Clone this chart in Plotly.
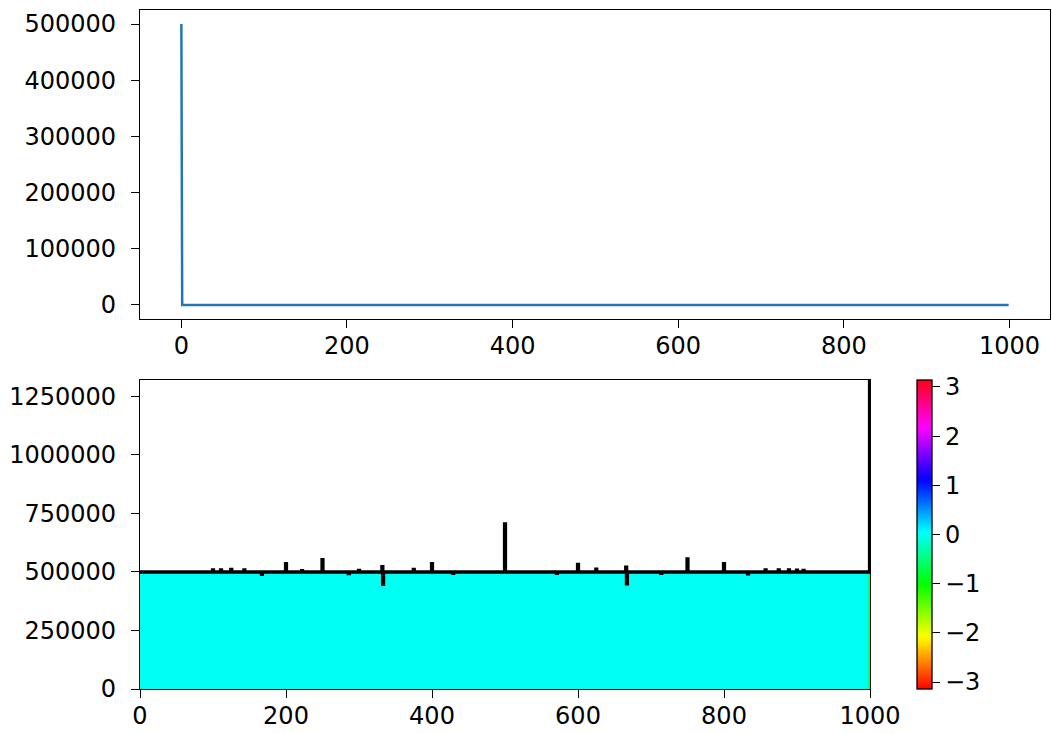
import plotly.graph_objects as go
import numpy as np

# ---- top panel: time-domain signal ----
sig_x = list(range(1000))
sig_peak_x = [0]
sig_peak_v = [500000]

# ---- bottom panel: spectrum magnitude / phase ----
freq_x = list(range(1001))
mag_base = 500000
spike_x = [100, 111, 125, 143, 167, 200, 222, 250, 286, 300, 332, 333, 375, 400, 429,
           500, 571, 600, 625, 666, 667, 714, 750, 800, 833, 857, 875, 889, 900, 909, 1000]
spike_v = [508000, 508000, 510000, 508000, 490000, 535000, 505000, 552000, 493000, 506000,
           522000, 448000, 510000, 535000, 494000, 705000, 494000, 532000, 512000, 520000,
           450000, 494000, 555000, 535000, 492000, 508000, 508000, 508000, 507000, 506000, 1320000]
phase_x = [997, 998, 999, 1000]
phase_v = [-0.15, -0.3, -0.45, -0.6]

top_y = [0.0] * len(sig_x)
for x, v in zip(sig_peak_x, sig_peak_v):
    top_y[x] = v

mag = [mag_base] * len(freq_x)
for x, v in zip(spike_x, spike_v):
    mag[x] = v
phase = [0.0] * len(freq_x)
for x, v in zip(phase_x, phase_v):
    phase[x] = v

# matplotlib 'hsv' colormap
hsv = [
    [0.0, "rgb(255,0,0)"],
    [0.158730, "rgb(255,239,0)"],
    [0.174603, "rgb(247,255,0)"],
    [0.333333, "rgb(8,255,0)"],
    [0.349206, "rgb(0,255,16)"],
    [0.507937, "rgb(0,255,255)"],
    [0.666667, "rgb(0,16,255)"],
    [0.682540, "rgb(8,0,255)"],
    [0.841270, "rgb(247,0,255)"],
    [0.857143, "rgb(255,0,239)"],
    [1.0, "rgb(255,0,24)"],
]

FONT = dict(family="DejaVu Sans", size=24, color="black")
W, H = 1052, 733

fig = go.Figure()
fig.add_trace(go.Scatter(x=sig_x, y=top_y, mode="lines",
                         line=dict(color="#1f77b4", width=2.5),
                         xaxis="x", yaxis="y", hoverinfo="skip"))
fig.add_trace(go.Bar(x=freq_x, y=mag, width=1,
                     marker=dict(color=phase, colorscale=hsv, cmin=-np.pi, cmax=np.pi,
                                 line=dict(width=0), showscale=True,
                                 colorbar=dict(x=917 / W, xanchor="left", xpad=0, ypad=0,
                                               y=1 - 689 / H, yanchor="bottom",
                                               len=(689 - 380) / H, lenmode="fraction",
                                               thickness=15, thicknessmode="pixels",
                                               outlinewidth=1.3, outlinecolor="black",
                                               tickvals=[-3, -2, -1, 0, 1, 2, 3],
                                               tickprefix="\u2009",
                                               ticks="outside", ticklen=8, tickwidth=1.3,
                                               tickcolor="black", tickfont=FONT)),
                     xaxis="x2", yaxis="y2", hoverinfo="skip"))
fig.add_trace(go.Scatter(x=freq_x, y=mag, mode="lines",
                         line=dict(color="black", width=3.5, shape="hvh"),
                         xaxis="x2", yaxis="y2", hoverinfo="skip"))

axis_common = dict(showline=True, mirror=True, linecolor="black", linewidth=1.3,
                   ticks="outside", ticklen=8, tickwidth=1.3, tickcolor="black",
                   showgrid=False, zeroline=False, tickfont=FONT, automargin=False)

fig.update_layout(
    width=W, height=H, margin=dict(l=0, r=0, t=0, b=0, autoexpand=False),
    plot_bgcolor="white", paper_bgcolor="white", showlegend=False, bargap=0,
    xaxis=dict(domain=[140 / W, 1050 / W], anchor="y", range=[-49.95, 1048.95],
               tickvals=[0, 200, 400, 600, 800, 1000], ticklabelstandoff=-3, **axis_common),
    yaxis=dict(domain=[1 - 319 / H, 1 - 10 / H], anchor="x", range=[-25000, 525000],
               tickvals=[0, 100000, 200000, 300000, 400000, 500000], tickformat="d",
               ticklabelstandoff=10, **axis_common),
    xaxis2=dict(domain=[140 / W, 870 / W], anchor="y2", range=[0, 1000],
                tickvals=[0, 200, 400, 600, 800, 1000], ticklabelstandoff=-3, **axis_common),
    yaxis2=dict(domain=[1 - 689 / H, 1 - 380 / H], anchor="x2", range=[0, 1320000],
                tickvals=[0, 250000, 500000, 750000, 1000000, 1250000], tickformat="d",
                ticklabelstandoff=10, **axis_common),
)

fig.write_html("out.html", config={"displayModeBar": False},
               post_script="document.body.style.margin='0';document.body.style.padding='0';document.body.style.overflow='hidden';")
